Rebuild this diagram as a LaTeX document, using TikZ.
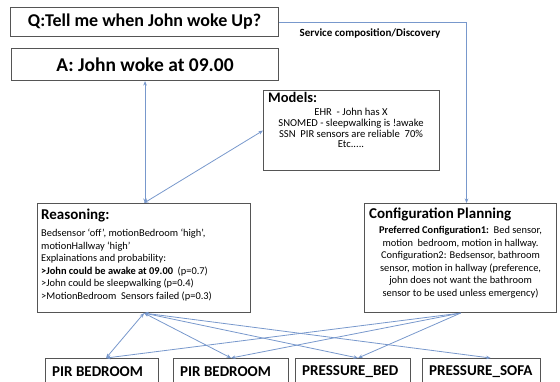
\documentclass[tikz,border=0pt]{standalone}
\usepackage{fontspec}
\setmainfont{Carlito}
\usetikzlibrary{arrows.meta}
\definecolor{linkblue}{RGB}{120,152,204}
\definecolor{frame}{RGB}{85,85,85}
\begin{document}
\begin{tikzpicture}[x=1pt,y=-1pt,
  box/.style={draw=frame, line width=1.1pt, fill=white, inner sep=0pt, anchor=north west},
  link/.style={draw=linkblue, line width=0.8pt},
  tipend/.style={-{Stealth[length=4.5pt,width=3.6pt]}},
  tipboth/.style={{Stealth[length=4.5pt,width=3.6pt]}-{Stealth[length=4.5pt,width=3.6pt]}},
  head/.style={font=\fontsize{15}{17}\selectfont\bfseries, inner sep=0pt, anchor=north west},
  body/.style={font=\fontsize{10.4}{12.5}\selectfont, inner sep=0pt},
  sensor/.style={font=\fontsize{15}{17}\selectfont\bfseries, inner sep=0pt, anchor=west}]
\useasboundingbox (0,0) rectangle (560,381);
\clip (0,0) rectangle (560,381);

% question and answer
\node[box, minimum width=268pt, minimum height=29pt] (q) at (10,7) {};
\node[font=\fontsize{18}{20}\selectfont\bfseries, inner sep=0pt] (qtext) at (q.center) {Q:Tell me when John woke Up?};
\node[box, minimum width=267pt, minimum height=32pt] (a) at (11,48) {};
\node[font=\fontsize{19.5}{21}\selectfont\bfseries, inner sep=0pt] (atext) at (a.center) {A: John woke at 09.00};

% knowledge models
\node[box, minimum width=176pt, minimum height=80pt] (m) at (263,90) {};
\node[head, font=\fontsize{14.5}{16}\selectfont\bfseries] (mhead) at (268,92) {Models:};
\node[body, font=\fontsize{10.6}{10.8}\selectfont, align=center, anchor=north] (mbody) at (351,108) {EHR\ \ - John has X\\SNOMED - sleepwalking is !awake\\SSN\ \ PIR sensors are reliable\ \ 70\%\\Etc.....};

% reasoning
\node[box, minimum width=213pt, minimum height=109pt] (r) at (37,203) {};
\node[head] (rhead) at (41,209) {Reasoning:};
\node[body, align=left, anchor=north west] (rbody) at (41,229) {Bedsensor `off', motionBedroom `high',\\motionHallway `high'\\Explainations and probability:\\\textbf{>John could be awake at 09.00}\ \ (p=0.7)\\>John could be sleepwalking (p=0.4)\\>MotionBedroom\ \ Sensors failed (p=0.3)};

% configuration planning
\node[box, minimum width=192pt, minimum height=109pt] (c) at (364,203) {};
\node[head] (chead) at (369,208) {Configuration Planning};
\node[body, align=center, anchor=north] (cbody) at (c.center |- 0,226) {\textbf{Preferred Configuration1:}\ \ Bed sensor,\\motion\ \ bedroom, motion in hallway.\\Configuration2: Bedsensor, bathroom\\sensor, motion in hallway (preference,\\john does not want the bathroom\\sensor to be used unless emergency)};

% sensors
\node[box, minimum width=113pt, minimum height=36pt] (s1) at (45,358) {};
\node[box, minimum width=115pt, minimum height=36pt] (s2) at (173,358) {};
\node[box, minimum width=115pt, minimum height=36pt] (s3) at (295,358) {};
\node[box, minimum width=118pt, minimum height=36pt] (s4) at (422,358) {};
\node[sensor] (s1t) at (52,372) {PIR BEDROOM};
\node[sensor] (s2t) at (180,372) {PIR BEDROOM};
\node[sensor] (s3t) at (302,372) {PRESSURE\_BED};
\node[sensor] (s4t) at (429,372) {PRESSURE\_SOFA};

% connectors
\draw[link, tipend] (q.east) -| ([xshift=6pt]c.north);
\node[font=\fontsize{11}{12}\selectfont\bfseries, inner sep=0pt] (svc) at (370,33) {Service composition/Discovery};
\draw[link, tipboth] (a.south) -- (a.south |- r.north);
\draw[link, tipboth] (r.north) -- (m.west);
\draw[link, tipboth] (r.south) -- ([xshift=4pt]s1.north);
\draw[link, tipboth] (r.south) -- (s2.north);
\draw[link, tipboth] (r.south) -- ([xshift=5pt]s3.north);
\draw[link, tipboth] (r.south) -- ([xshift=9pt]s4.north);
\draw[link, tipend] (c.south) -- ([xshift=4pt]s1.north);
\draw[link, tipend] (c.south) -- (s2.north);
\draw[link, tipend] (c.south) -- ([xshift=5pt]s3.north);
\end{tikzpicture}
\end{document}
